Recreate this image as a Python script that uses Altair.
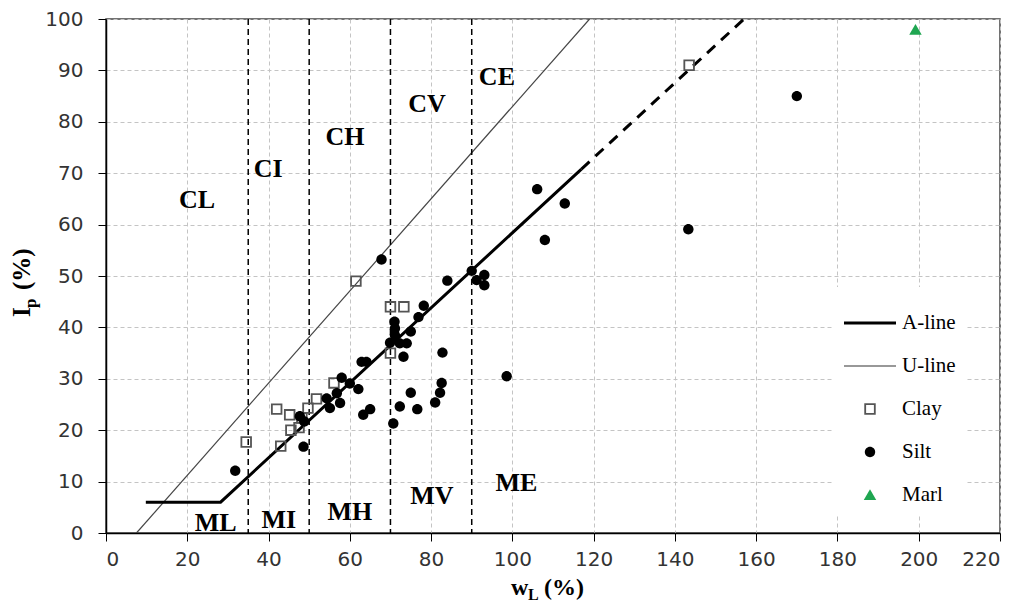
import altair as alt
import pandas as pd

# ---------------- data ----------------
clay_wl = [34.5, 42.0, 43.0, 45.2, 45.5, 47.5, 48.2, 49.7, 51.8, 56.1, 61.5, 70.0, 73.3, 70.0, 143.5]
clay_ip = [17.7, 24.1, 16.9, 23.0, 20.0, 20.5, 22.4, 24.3, 26.1, 29.2, 49.0, 44.0, 44.0, 35.0, 91.0]

silt_wl = [31.8, 48.6, 47.7, 48.8, 54.3, 55.1, 56.8, 57.6, 58.0, 60.0, 62.1, 62.9, 64.1, 63.3, 65.0,
           67.8, 70.7, 69.9, 71.0, 71.1, 71.1, 72.3, 74.0, 73.2, 72.3, 75.0, 76.6, 75.0, 76.9, 78.2,
           81.0, 82.2, 82.6, 82.8, 84.0, 90.0, 91.2, 93.1, 93.1, 98.6, 106.1, 108.0, 112.9, 143.3, 170.0]
silt_ip = [12.1, 16.8, 22.7, 21.7, 26.2, 24.3, 27.2, 25.3, 30.2, 29.1, 28.0, 33.3, 33.3, 23.0, 24.1,
           53.2, 21.3, 37.0, 41.1, 39.8, 38.5, 36.9, 36.9, 34.3, 24.6, 27.3, 24.1, 39.2, 42.0, 44.2,
           25.4, 27.3, 29.2, 35.1, 49.1, 51.0, 49.2, 50.2, 48.2, 30.5, 66.9, 57.0, 64.1, 59.1, 85.0]

marl_wl = [199.2]
marl_ip = [97.9]

# A-line (plateau + solid part) and its dashed extension, U-line
a_line_wl = [9.8, 28.2, 117.0]
a_line_ip = [6.0, 6.0, 70.8]
a_ext_wl = [117.0, 157.0]
a_ext_ip = [70.8, 100.0]
u_line_wl = [7.5, 119.0]
u_line_ip = [0.0, 100.0]

zone_bounds = [35, 50, 70, 90]

zone_labels = ["CL", "CI", "CH", "CV", "CE", "ML", "MI", "MH", "MV", "ME"]
zone_label_wl = [22.4, 39.9, 58.8, 79.0, 96.2, 27.0, 42.5, 60.0, 80.2, 101.0]
zone_label_ip = [63.2, 69.3, 75.5, 81.9, 87.2, 0.4, 1.0, 2.5, 5.6, 8.2]

x_ticks = list(range(0, 221, 20))
y_ticks = list(range(0, 101, 10))

legend_kinds = ["A-line", "U-line", "Clay", "Silt", "Marl"]

# ---------------- styling ----------------
W, H = 894, 514
SERIF = "Liberation Serif"
SANS = "DejaVu Sans"

A_PATH = "M-1,-0.06L1,-0.06L1,0.06L-1,0.06Z"
U_PATH = "M-1,-0.022L1,-0.022L1,0.022L-1,0.022Z"
SQ_PATH = ("M-0.22,-0.22L0.22,-0.22L0.22,0.22L-0.22,0.22Z "
           "M-0.15,-0.15L-0.15,0.15L0.15,0.15L0.15,-0.15Z")
CIRC_PATH = "M0.2,0A0.2,0.2,0,1,1,-0.2,0A0.2,0.2,0,1,1,0.2,0Z"
TRI_PATH = "M0,-0.22L0.24,0.19L-0.24,0.19Z"
SYM_SIZE = 2704

xscale = alt.Scale(domain=[0, 220], nice=False, zero=False)
yscale = alt.Scale(domain=[0, 100], nice=False, zero=False)

axis_common = dict(
    title=None, grid=True, gridDash=[4, 3], gridColor="#c4c4c4", gridWidth=1,
    domainColor="black", domainWidth=1.5, tickColor="black", tickSize=8, tickWidth=1,
    labelFont=SANS, labelFontSize=20, labelColor="#333",
)
xaxis = alt.Axis(values=x_ticks, labelPadding=8, **axis_common)
yaxis = alt.Axis(values=y_ticks, labelPadding=15, **axis_common)


def X():
    return alt.X("wl:Q", scale=xscale, axis=xaxis)


def Y():
    return alt.Y("ip:Q", scale=yscale, axis=yaxis)


legend = alt.Legend(
    title=None, orient="none", legendX=728, legendY=268,
    symbolSize=SYM_SIZE, symbolStrokeWidth=0, symbolOpacity=1,
    labelFont=SERIF, labelFontSize=21, labelColor="black", labelOffset=6,
    fillColor="white", padding=10, rowPadding=7, labelLimit=200,
)
color = alt.Color("kind:N", scale=alt.Scale(domain=legend_kinds,
                  range=["black", "#333333", "#555555", "black", "#1fa651"]), legend=legend)
shape = alt.Shape("kind:N", scale=alt.Scale(domain=legend_kinds,
                  range=[A_PATH, U_PATH, SQ_PATH, CIRC_PATH, TRI_PATH]), legend=legend)

# ---------------- tables ----------------
pts = pd.concat([
    pd.DataFrame({"kind": "Clay", "wl": clay_wl, "ip": clay_ip}),
    pd.DataFrame({"kind": "Silt", "wl": silt_wl, "ip": silt_ip}),
    pd.DataFrame({"kind": "Marl", "wl": marl_wl, "ip": marl_ip}),
], ignore_index=True)

a_df = pd.DataFrame({"wl": a_line_wl, "ip": a_line_ip})
a_ext_df = pd.DataFrame({"wl": a_ext_wl, "ip": a_ext_ip})
u_df = pd.DataFrame({"wl": u_line_wl, "ip": u_line_ip})
bounds_df = pd.DataFrame({"wl": zone_bounds})
labels_df = pd.DataFrame({"label": zone_labels, "wl": zone_label_wl, "ip": zone_label_ip})

# ---------------- layers ----------------
u_layer = alt.Chart(u_df).mark_line(color="#444", strokeWidth=1.2, clip=True).encode(x=X(), y=Y())
a_layer = alt.Chart(a_df).mark_line(color="black", strokeWidth=3).encode(x=X(), y=Y())
a_ext_layer = alt.Chart(a_ext_df).mark_line(color="black", strokeWidth=3,
                                            strokeDash=[11, 8]).encode(x=X(), y=Y())
bounds_layer = alt.Chart(bounds_df).mark_rule(color="black", strokeWidth=1.5,
                                              strokeDash=[6, 4]).encode(x=X())
points_layer = alt.Chart(pts).mark_point(filled=True, opacity=1, strokeWidth=0).encode(
    x=X(), y=Y(), color=color, shape=shape, size=alt.value(SYM_SIZE))
labels_layer = alt.Chart(labels_df).mark_text(
    font=SERIF, fontWeight="bold", fontSize=26, color="black",
    align="center", baseline="alphabetic").encode(x=X(), y=Y(), text="label:N")


def free_text(txt, x, y, size, angle=0):
    return alt.Chart(pd.DataFrame({"t": [txt]})).mark_text(
        text=txt, font=SERIF, fontWeight="bold", fontSize=size, color="black",
        align="left", baseline="alphabetic", angle=angle).encode(
        x=alt.value(x), y=alt.value(y))


# axis titles: w_L (%) and I_p (%)
xt1 = free_text("w", 405, 576, 24)
xt2 = free_text("L", 422, 581, 16)
xt3 = free_text("(%)", 438, 576, 24)
yt1 = free_text("I", -76, 298, 25, angle=270)
yt2 = free_text("p", -70, 289, 17, angle=270)
yt3 = free_text("(%)", -76, 271, 25, angle=270)

chart = alt.layer(
    u_layer, a_layer, a_ext_layer, bounds_layer, points_layer, labels_layer,
    xt1, xt2, xt3, yt1, yt2, yt3,
).properties(
    width=W, height=H,
    autosize=alt.AutoSizeParams(type="none"),
    padding={"left": 98, "top": 11, "right": 20, "bottom": 72},
).configure_view(stroke="#444", strokeWidth=1.5)

chart.save("out.html", embed_options={"renderer": "svg", "actions": False})
